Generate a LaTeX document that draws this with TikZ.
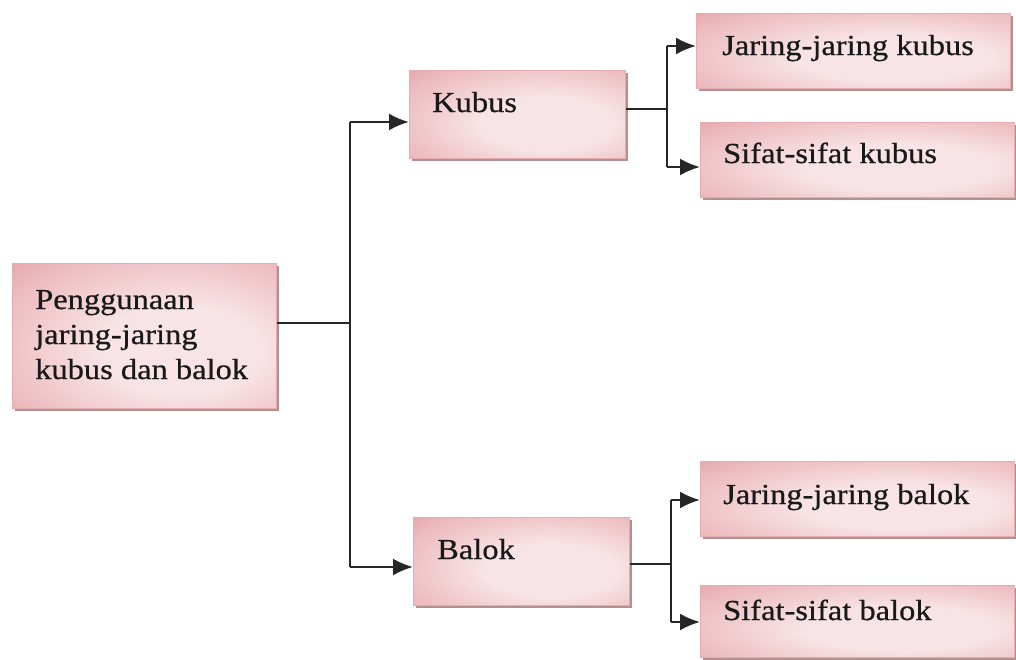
\documentclass[tikz,border=0pt]{standalone}
\usepackage{fontspec}
\setmainfont{Liberation Serif}[FakeStretch=1.12,FakeBold=0.6]
\usetikzlibrary{arrows.meta,shadows}
\definecolor{pinkA}{RGB}{248,228,230}
\definecolor{pinkB}{RGB}{236,186,190}
\definecolor{pinkC}{RGB}{220,138,144}
\definecolor{shadowc}{RGB}{165,125,125}
\pgfdeclareradialshading{boxshade}{\pgfpoint{8bp}{-6bp}}{color(0bp)=(pinkA); color(15bp)=(pinkA); color(35bp)=(pinkB); color(52bp)=(pinkC); color(100bp)=(pinkC)}
\tikzset{
  box/.style={shading=boxshade, draw=pinkC!70!white, line width=0.5pt, inner sep=0pt, anchor=north west,
    drop shadow={shadow xshift=3pt, shadow yshift=-3pt, fill=shadowc, opacity=0.85}},
  lbl/.style={anchor=base west, inner sep=0pt, align=left, font=\fontsize{29}{35}\selectfont, text=black!90},
  conn/.style={line width=2.4pt, draw=black!85, -{Latex[length=20pt,width=17pt]}},
  wire/.style={line width=2.4pt, draw=black!85}
}
\begin{document}
\begin{tikzpicture}[x=1pt,y=-1pt]
\useasboundingbox (0,0) rectangle (1016,659);
% boxes
\node[box, minimum width=264pt, minimum height=145pt] (root) at (12,263) {};
\node[box, minimum width=216pt, minimum height=88pt] (kubus) at (409,70) {};
\node[box, minimum width=216pt, minimum height=88pt] (balok) at (413,517) {};
\node[box, minimum width=314pt, minimum height=75pt] (jk) at (696,13) {};
\node[box, minimum width=314pt, minimum height=75pt] (sk) at (700,122) {};
\node[box, minimum width=314pt, minimum height=75pt] (jb) at (700,461) {};
\node[box, minimum width=314pt, minimum height=72pt] (sb) at (700,585) {};
% texts
\node[lbl] (t1) at (35,379) {Penggunaan\\jaring-jaring\\kubus dan balok};
\node[lbl] (t2) at (432,112) {Kubus};
\node[lbl] (t3) at (437,559) {Balok};
\node[lbl] (t4) at (722,55) {Jaring-jaring kubus};
\node[lbl] (t5) at (723,163) {Sifat-sifat kubus};
\node[lbl] (t6) at (723,504) {Jaring-jaring balok};
\node[lbl] (t7) at (723,620) {Sifat-sifat balok};
% junctions
\coordinate (j1) at (350,323);
\coordinate (j2) at (667,109);
\coordinate (j3) at (671,564);
% connectors
\draw[wire] (j1 -| root.east) -- (j1);
\draw[conn] (350,122) -- (350,122 -| kubus.west);
\draw[conn] (350,567) -- (350,567 -| balok.west);
\draw[wire] (350,122) -- (350,567);
\draw[wire] (j2 -| kubus.east) -- (j2);
\draw[wire] (667,46) -- (667,167);
\draw[conn] (667,46) -- (667,46 -| jk.west);
\draw[conn] (667,167) -- (667,167 -| sk.west);
\draw[wire] (j3 -| balok.east) -- (j3);
\draw[wire] (671,500) -- (671,622);
\draw[conn] (671,500) -- (671,500 -| jb.west);
\draw[conn] (671,622) -- (671,622 -| sb.west);
\end{tikzpicture}
\end{document}
